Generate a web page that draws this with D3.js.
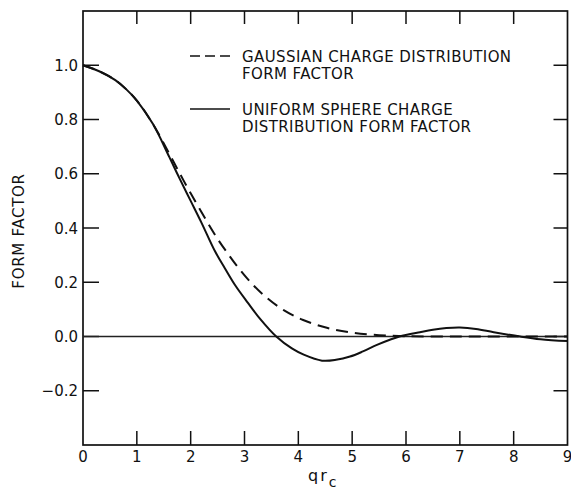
<!DOCTYPE html>
<html>
<head>
<meta charset="utf-8">
<script src="https://cdn.jsdelivr.net/npm/d3@7"></script>
<style>
  body { margin: 0; background: #fff; }
  svg text { font-family: "DejaVu Sans", sans-serif; fill: #111; }
</style>
</head>
<body>
<div id="chart"></div>
<script>
// values
const uniformX = [0, 0.3, 0.6, 0.8, 1.0, 1.3, 1.6, 1.8, 2.0, 2.2, 2.45, 2.64, 2.83, 3.06, 3.29, 3.59, 3.88, 4.1, 4.44, 4.7, 4.96, 5.2, 5.46, 5.7, 5.88, 6.26, 6.5, 6.75, 7.0, 7.3, 7.63, 8.12, 8.5, 9.0];
const uniformY = [1.0, 0.978, 0.945, 0.912, 0.87, 0.783, 0.663, 0.58, 0.5, 0.42, 0.315, 0.25, 0.188, 0.125, 0.065, 0.0, -0.044, -0.067, -0.089, -0.086, -0.074, -0.055, -0.031, -0.012, 0.0, 0.016, 0.025, 0.031, 0.033, 0.028, 0.016, 0.0, -0.01, -0.017];

const gaussX = [0, 0.3, 0.6, 0.8, 1.0, 1.3, 1.6, 1.8, 2.0, 2.27, 2.5, 2.7, 2.9, 3.16, 3.4, 3.72, 4.09, 4.53, 5.0, 5.5, 6.0, 7.0, 8.0, 9.0];
const gaussY = [1.0, 0.978, 0.945, 0.912, 0.87, 0.783, 0.675, 0.6, 0.528, 0.435, 0.36, 0.303, 0.25, 0.19, 0.145, 0.098, 0.061, 0.032, 0.014, 0.005, 0.001, 0.0, 0.0, 0.0];

const xTicks = [0, 1, 2, 3, 4, 5, 6, 7, 8, 9];
const yTicks = [-0.2, 0.0, 0.2, 0.4, 0.6, 0.8, 1.0];
const legendLines = [
    ["GAUSSIAN CHARGE DISTRIBUTION", "FORM FACTOR"],
    ["UNIFORM SPHERE CHARGE", "DISTRIBUTION FORM FACTOR"]
];

const width = 571;
const height = 489;
const mLeft = 83, mRight = 567.5, mTop = 11, mBottom = 445;

const svg = d3.select("#chart")
    .append("svg")
    .attr("width", width)
    .attr("height", height);

const x = d3.scaleLinear().domain([0, 9]).range([mLeft, mRight]);
const y = d3.scaleLinear().domain([-0.4, 1.2]).range([mBottom, mTop]);

const ink = "#111";

// inward ticks on the four sides
const inner = xTicks.slice(1, -1);
svg.selectAll(".tb").data(inner).enter().append("line")
    .attr("x1", d => x(d)).attr("x2", d => x(d))
    .attr("y1", mBottom).attr("y2", mBottom - 14)
    .attr("stroke", ink).attr("stroke-width", 1.5);
svg.selectAll(".tt").data(inner).enter().append("line")
    .attr("x1", d => x(d)).attr("x2", d => x(d))
    .attr("y1", mTop).attr("y2", mTop + 13)
    .attr("stroke", ink).attr("stroke-width", 1.5);
svg.selectAll(".tl").data(yTicks).enter().append("line")
    .attr("x1", mLeft).attr("x2", mLeft + 16)
    .attr("y1", d => y(d)).attr("y2", d => y(d))
    .attr("stroke", ink).attr("stroke-width", 1.5);
svg.selectAll(".tr").data(yTicks).enter().append("line")
    .attr("x1", mRight).attr("x2", mRight - 14)
    .attr("y1", d => y(d)).attr("y2", d => y(d))
    .attr("stroke", ink).attr("stroke-width", 1.5);

// frame
svg.append("rect")
    .attr("x", mLeft).attr("y", mTop)
    .attr("width", mRight - mLeft).attr("height", mBottom - mTop)
    .attr("fill", "none").attr("stroke", ink).attr("stroke-width", 1.7);

// zero line
svg.append("line")
    .attr("x1", x(0)).attr("x2", x(9))
    .attr("y1", y(0)).attr("y2", y(0))
    .attr("stroke", "#222").attr("stroke-width", 1.4);

// tick labels
svg.selectAll(".xlab")
    .data(xTicks)
    .enter()
    .append("text")
    .attr("x", d => x(d))
    .attr("y", 462)
    .attr("text-anchor", "middle")
    .style("font-size", "15px")
    .text(d => d);

svg.selectAll(".ylab")
    .data(yTicks)
    .enter()
    .append("text")
    .attr("x", 78)
    .attr("y", d => y(d) + 5.5)
    .attr("text-anchor", "end")
    .style("font-size", "15px")
    .text(d => d.toFixed(1).replace("-", "\u2212"));

// axis titles
svg.append("text")
    .attr("transform", "translate(24,231) rotate(-90)")
    .attr("text-anchor", "middle")
    .style("font-size", "15px")
    .style("letter-spacing", "0.7px")
    .text("FORM FACTOR");

const xt = svg.append("text")
    .attr("x", 308)
    .attr("y", 481)
    .style("font-size", "16px")
    .style("letter-spacing", "2px");
xt.append("tspan").text("qr");
xt.append("tspan").attr("dy", 6).style("font-size", "14px").text("c");

// curves
const line = d3.line()
    .x(d => x(d[0]))
    .y(d => y(d[1]))
    .curve(d3.curveCatmullRom.alpha(0.5));

svg.append("path")
    .attr("d", line(d3.zip(gaussX, gaussY)))
    .attr("fill", "none")
    .attr("stroke", ink)
    .attr("stroke-width", 2)
    .attr("stroke-dasharray", "12,7");

svg.append("path")
    .attr("d", line(d3.zip(uniformX, uniformY)))
    .attr("fill", "none")
    .attr("stroke", ink)
    .attr("stroke-width", 2);

// legend
const legY = [56, 109];
const dashes = ["10,5", null];
legendLines.forEach((lines, i) => {
    svg.append("line")
        .attr("x1", 190).attr("x2", 230)
        .attr("y1", legY[i]).attr("y2", legY[i])
        .attr("stroke", ink)
        .attr("stroke-width", 1.7)
        .attr("stroke-dasharray", dashes[i]);
    lines.forEach((t, j) => {
        svg.append("text")
            .attr("x", 242)
            .attr("y", legY[i] + 6 + j * 17)
            .style("font-size", "15px")
            .style("letter-spacing", "0.4px")
            .text(t);
    });
});
</script>
</body>
</html>
